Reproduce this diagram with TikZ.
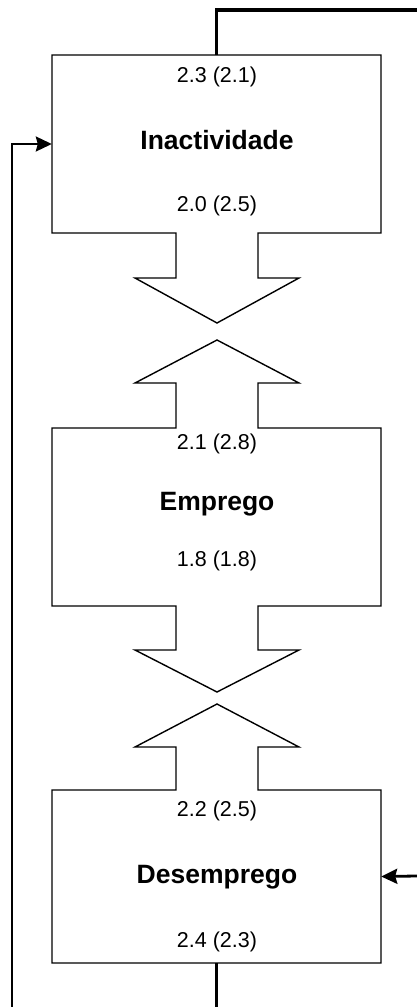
\documentclass[tikz,border=0pt]{standalone}
\usepackage{fontspec}
\setmainfont{Liberation Sans}
\usetikzlibrary{arrows.meta,calc}
\begin{document}
\begin{tikzpicture}[x=1pt,y=-1pt,
  outline/.style={draw=black,line width=1.4pt,line join=miter},
  state/.style={minimum width=329pt,minimum height=178pt,inner sep=0pt,draw=none},
  val/.style={anchor=base,inner sep=0pt,font=\fontsize{21.5}{24}\selectfont},
  title/.style={anchor=base,inner sep=0pt,font=\fontsize{26.5}{30}\selectfont\bfseries},
  flow/.style={line width=3.2pt},
  loopline/.style={line width=2.2pt},
  head/.style={-{Stealth[length=16pt,width=15pt,inset=2pt]}}
]
\useasboundingbox (0,0) rectangle (417,1007);

% state boxes with their block arrows
\draw[outline] (52,55) -- (381,55) -- (381,233) -- (258,233) -- (258,278)
  -- (299,278) -- (217,323) -- (135,278) -- (176,278) -- (176,233)
  -- (52,233) -- cycle;
\draw[outline] (217,340) -- (299,383) -- (258,383) -- (258,428) -- (381,428)
  -- (381,606) -- (258,606) -- (258,650) -- (299,650) -- (217,692)
  -- (135,650) -- (176,650) -- (176,606) -- (52,606) -- (52,428)
  -- (176,428) -- (176,383) -- (135,383) -- cycle;
\draw[outline] (217,704) -- (299,747) -- (258,747) -- (258,790) -- (381,790)
  -- (381,963) -- (52,963) -- (52,790) -- (176,790) -- (176,747)
  -- (135,747) -- cycle;

% anchors for the boxes
\node[state] (inact) at (216.5,144) {};
\node[state] (emp) at (216.5,517) {};
\node[state,minimum height=173pt] (des) at (216.5,876.5) {};

% labels
\node[val] (inactIn) at (217,82) {2.3 (2.1)};
\node[title] (inactT) at (217,149) {Inactividade};
\node[val] (inactOut) at (217,211) {2.0 (2.5)};

\node[val] (empIn) at (217,449) {2.1 (2.8)};
\node[title] (empT) at (217,510) {Emprego};
\node[val] (empOut) at (217,566) {1.8 (1.8)};

\node[val] (desIn) at (217,816) {2.2 (2.5)};
\node[title] (desT) at (217,883) {Desemprego};
\node[val] (desOut) at (217,947) {2.4 (2.3)};

% external flows
\coordinate (topEnd) at (417,10);
\coordinate (botEnd) at (218,1007);
\coordinate (leftEnd) at (12,1007);
\coordinate (rightEnd) at (417,876);

\draw[flow,line join=miter] (inact.north) |- (topEnd);
\draw[flow] (des.south) -- (des.south |- botEnd);
\draw[loopline,head] (leftEnd) |- (inact.west);
\draw[line width=2.8pt,head] (rightEnd) -- (des.east);
\end{tikzpicture}
\end{document}
